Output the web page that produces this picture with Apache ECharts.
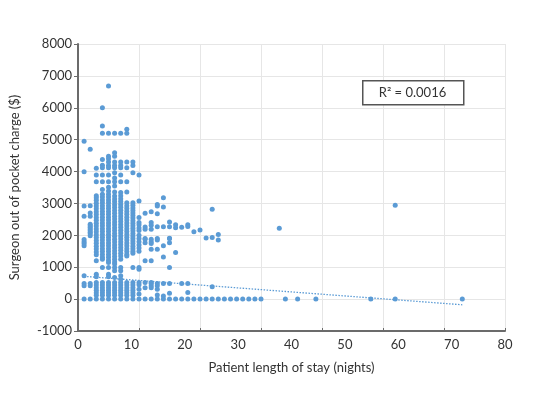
<!DOCTYPE html>
<html>
<head>
<meta charset="utf-8">
<script src="https://cdn.jsdelivr.net/npm/echarts@6/dist/echarts.min.js"></script>
<style>
html,body{margin:0;padding:0;background:#fff;}
#chart{width:555px;height:393px;}
</style>
</head>
<body>
<div id="chart"></div>
<script>
// ---- Data: surgeon out-of-pocket charge ($) by patient length of stay (nights) ----
const n1 = [4950, 3990, 2920, 2600, 1870, 1800, 1740, 1670, 730, 490, 420, 0];
const n2 = [4700, 2930, 2700, 2600, 2350, 2300, 2250, 2200, 2150, 2100, 2050, 1990, 490, 420, 0];
const n3 = [4100, 3890, 3680, 3240, 3180, 3100, 3010, 2920, 2830, 2740, 2650, 2560, 2470, 2380, 2290, 2200, 2110, 2020, 1930, 1840, 1750, 1660, 1570, 1480, 1390, 1200, 780, 700, 520, 440, 360, 280, 200, 120, 0];
const n4 = [6000, 5430, 5200, 4380, 4200, 4120, 3890, 3680, 3440, 3290, 3200, 3110, 3020, 2930, 2840, 2750, 2660, 2570, 2480, 2390, 2300, 2210, 2120, 2030, 1940, 1850, 1760, 1670, 1580, 1490, 1400, 1310, 1250, 990, 520, 440, 360, 280, 200, 120, 0];
const n5 = [6680, 5200, 4480, 4400, 4300, 4190, 4120, 3890, 3680, 3510, 3390, 3290, 3200, 3110, 3020, 2930, 2840, 2750, 2660, 2570, 2480, 2390, 2300, 2210, 2120, 2030, 1940, 1850, 1760, 1670, 1580, 1490, 1400, 1310, 1220, 1150, 990, 780, 700, 520, 440, 360, 280, 200, 120, 0];
const n6 = [5200, 4590, 4480, 4300, 4190, 4120, 3960, 3800, 3680, 3550, 3360, 3230, 3140, 3050, 2960, 2870, 2780, 2690, 2600, 2510, 2420, 2330, 2240, 2150, 2060, 1970, 1880, 1790, 1700, 1610, 1520, 1430, 1340, 1250, 1160, 1100, 990, 890, 680, 520, 440, 360, 280, 200, 120, 0];
const n7 = [5200, 4300, 4190, 4120, 3890, 3680, 3340, 3240, 3150, 3060, 2970, 2880, 2790, 2700, 2610, 2520, 2430, 2340, 2250, 2160, 2070, 1980, 1890, 1800, 1710, 1620, 1530, 1440, 1350, 1250, 990, 890, 730, 620, 520, 440, 360, 280, 200, 120, 0];
const n8 = [5330, 5200, 4300, 4120, 3680, 3360, 3020, 2930, 2840, 2750, 2660, 2570, 2480, 2390, 2300, 2210, 2120, 2030, 1940, 1850, 1760, 1670, 1580, 1490, 1400, 1350, 520, 440, 360, 280, 200, 120, 0];
const n9 = [4300, 4190, 3960, 3020, 2940, 2860, 2780, 2700, 2620, 2540, 2460, 2380, 2300, 2220, 2140, 2060, 1980, 1900, 1820, 1740, 1660, 1580, 1500, 1440, 990, 520, 440, 360, 280, 200, 120, 0];
const n10 = [3890, 3080, 2560, 2400, 2330, 2230, 2150, 2000, 1900, 1800, 1700, 1600, 1500, 990, 940, 520, 450, 310, 160, 0];
const n11 = [2690, 2260, 2190, 1900, 1880, 1770, 1200, 520, 360, 0];
const n12 = [2740, 2400, 2320, 2190, 1880, 1800, 1740, 1560, 1200, 520, 490, 420, 360, 0];
const n13 = [2970, 2920, 2680, 2270, 1900, 1850, 1560, 490, 420, 310, 130, 0];
const n14 = [3180, 2890, 2270, 1670, 1320, 490, 100, 0];
const n15 = [2420, 2270, 1910, 1900, 1770, 990, 490, 180, 0];
const n16 = [2330, 2240, 1460, 0];
const n17 = [2250, 490, 0];
const n18 = [2330, 2280, 490, 210, 0];
const n19 = [2110, 0];
const n20 = [2170, 0];
const n21 = [1920, 0];
const n22 = [2820, 1930, 390, 0];
const n23 = [2030, 1850, 0];
const columnNights = [1, 2, 3, 4, 5, 6, 7, 8, 9, 10, 11, 12, 13, 14, 15, 16, 17, 18, 19, 20, 21, 22, 23];
const columnCharges = [n1, n2, n3, n4, n5, n6, n7, n8, n9, n10, n11, n12, n13, n14, n15, n16, n17, n18, n19, n20, n21, n22, n23];
// sparse long stays
const longStayNights  = [24, 25, 26, 27, 28, 29, 30, 33, 34, 36, 39, 48, 52, 52, 63];
const longStayCharges = [0, 0, 0, 0, 0, 0, 0, 2220, 0, 0, 0, 0, 2940, 0, 0];
// linear trendline end points
const trendNights  = [1, 63];
const trendCharges = [715, -178];
const r2Text = 'R\u00B2 = 0.0016';
const xTickLabels = [0, 10, 20, 30, 40, 50, 60, 70, 80];

const points = [];
columnNights.forEach((n, i) => columnCharges[i].forEach(v => points.push([n, v])));
longStayNights.forEach((n, i) => points.push([n, longStayCharges[i]]));

const FONT = 'Lato';
const TXT = '#333333';
const AX = '#6b6b6b';
const BLUE = '#5B9BD5';

const chart = echarts.init(document.getElementById('chart'), null, {renderer: 'canvas'});
chart.setOption({
  animation: false,
  backgroundColor: '#ffffff',
  textStyle: {fontFamily: FONT},
  grid: {left: 77, right: 50, top: 44, bottom: 62, containLabel: false},
  xAxis: [
    {
      type: 'value', min: 0, max: 70, interval: 10,
      axisLine: {show: true, onZero: false, lineStyle: {color: AX, width: 2}},
      axisTick: {show: true, inside: true, length: 3, lineStyle: {color: AX}},
      axisLabel: {show: false},
      splitLine: {show: true, lineStyle: {color: '#e6e6e6', width: 1}}
    },
    {
      type: 'value', min: 0, max: 80, interval: 10, position: 'bottom',
      axisLine: {show: false}, axisTick: {show: false}, splitLine: {show: false},
      axisLabel: {show: true, margin: 7, color: TXT, fontSize: 13, fontFamily: FONT,
        formatter: (v) => { const i = xTickLabels.indexOf(v); return i >= 0 ? String(xTickLabels[i]) : ''; }},
      name: 'Patient length of stay (nights)', nameLocation: 'middle', nameGap: 30,
      nameTextStyle: {color: TXT, fontSize: 13, fontFamily: FONT}
    }
  ],
  yAxis: {
    type: 'value', min: -1000, max: 8000, interval: 1000,
    axisLine: {show: true, onZero: false, lineStyle: {color: AX, width: 2}},
    axisTick: {show: true, inside: false, length: 4, lineStyle: {color: AX}},
    axisLabel: {margin: 6, color: TXT, fontSize: 13, fontFamily: FONT, formatter: (v) => String(v)},
    splitLine: {show: true, lineStyle: {color: '#e6e6e6', width: 1}},
    name: 'Surgeon out of pocket charge ($)', nameLocation: 'middle', nameGap: 57, nameRotate: 90,
    nameTextStyle: {color: TXT, fontSize: 13, fontFamily: FONT}
  },
  series: [
    {
      type: 'scatter', xAxisIndex: 0, data: points, symbol: 'circle', symbolSize: 5,
      itemStyle: {color: BLUE, opacity: 1}, silent: true, z: 3
    },
    {
      type: 'line', xAxisIndex: 0,
      data: trendNights.map((n, i) => [n, trendCharges[i]]),
      showSymbol: false, symbol: 'none', silent: true, z: 4,
      lineStyle: {color: BLUE, width: 1.3, type: [1.5, 1.5]}
    }
  ],
  graphic: [
    {type: 'rect', left: 362, top: 80, shape: {width: 101, height: 24},
     style: {fill: '#ffffff', stroke: '#555555', lineWidth: 1.5}, z: 10},
    {type: 'text', x: 412.5, y: 92.5,
     style: {text: r2Text, fill: TXT, font: '13px ' + FONT, align: 'center', verticalAlign: 'middle'}, z: 11}
  ]
});
</script>
</body>
</html>
